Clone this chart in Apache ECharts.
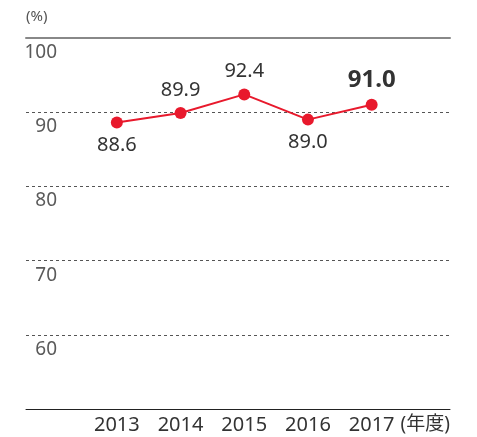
<!DOCTYPE html>
<html>
<head>
<meta charset="utf-8">
<script src="https://cdn.jsdelivr.net/npm/echarts@6/dist/echarts.min.js"></script>
<style>
  html, body { margin: 0; padding: 0; background: #fff; }
  #main { width: 477px; height: 437px; }
</style>
</head>
<body>
<div id="main"></div>
<script>
  // 年度ごとの値
  var years = ['2013', '2014', '2015', '2016', '2017'];
  var values = [88.6, 89.9, 92.4, 89.0, 91.0];
  var labelPos = ['bottom', 'top', 'top', 'bottom', 'top'];
  var yTicks = [50, 60, 70, 80, 90, 100];

  var font = '"Noto Sans", "Noto Sans CJK JP", sans-serif';
  var red = '#e8192c';

  var points = values.map(function (v, i) {
    var last = i === values.length - 1;
    return {
      value: v,
      label: {
        position: labelPos[i],
        distance: 7,
        fontSize: last ? 24 : 20,
        fontWeight: last ? 'bold' : 'normal'
      }
    };
  });

  var chart = echarts.init(document.getElementById('main'));
  chart.setOption({
    animation: false,
    textStyle: { fontFamily: font },
    grid: [
      { left: 26, right: 27, top: 38, bottom: 28 },
      { left: 85, right: 73.5, top: 38, bottom: 28 }
    ],
    xAxis: [
      {
        gridIndex: 0, type: 'value', min: 0, max: 1, position: 'bottom',
        axisLine: { show: true, lineStyle: { color: '#222', width: 1 } },
        axisTick: { show: false }, axisLabel: { show: false }, splitLine: { show: false },
        name: '(年度)', nameLocation: 'end', nameGap: 0,
        nameTextStyle: {
          align: 'right', verticalAlign: 'top', padding: [6, 0, 0, 0],
          fontSize: 19, color: '#333', fontFamily: font
        }
      },
      {
        gridIndex: 0, type: 'value', min: 0, max: 1, position: 'top',
        axisLine: { show: true, lineStyle: { color: '#888', width: 2 } },
        axisTick: { show: false }, axisLabel: { show: false }, splitLine: { show: false }
      },
      {
        gridIndex: 1, type: 'category', data: years,
        axisLine: { show: false }, axisTick: { show: false },
        axisLabel: { margin: 6, fontSize: 20, color: '#333', fontFamily: font }
      }
    ],
    yAxis: [
      {
        gridIndex: 0, type: 'value', min: yTicks[0], max: yTicks[yTicks.length - 1], interval: 10,
        axisLine: { show: false }, axisTick: { show: false },
        axisLabel: {
          inside: true, margin: 31, align: 'right', verticalAlign: 'top',
          padding: [5, 0, 0, 0], fontSize: 19, color: '#5a5a5a', fontFamily: font,
          formatter: function (v) { return v === 50 ? '' : v; }
        },
        splitLine: { show: true, lineStyle: { color: '#555', type: [3, 3], width: 1 } },
        name: '(%)', nameLocation: 'end', nameGap: 14,
        nameTextStyle: { align: 'left', fontSize: 15, color: '#555', fontFamily: font }
      },
      {
        gridIndex: 1, type: 'value', min: 50, max: 100, show: false
      }
    ],
    series: [{
      type: 'line',
      xAxisIndex: 2,
      yAxisIndex: 1,
      data: points,
      symbol: 'circle',
      symbolSize: 12,
      lineStyle: { color: red, width: 2 },
      itemStyle: { color: red },
      label: { show: true, color: '#333', fontFamily: font, formatter: function (p) { return p.value.toFixed(1); } }
    }]
  });
</script>
</body>
</html>
